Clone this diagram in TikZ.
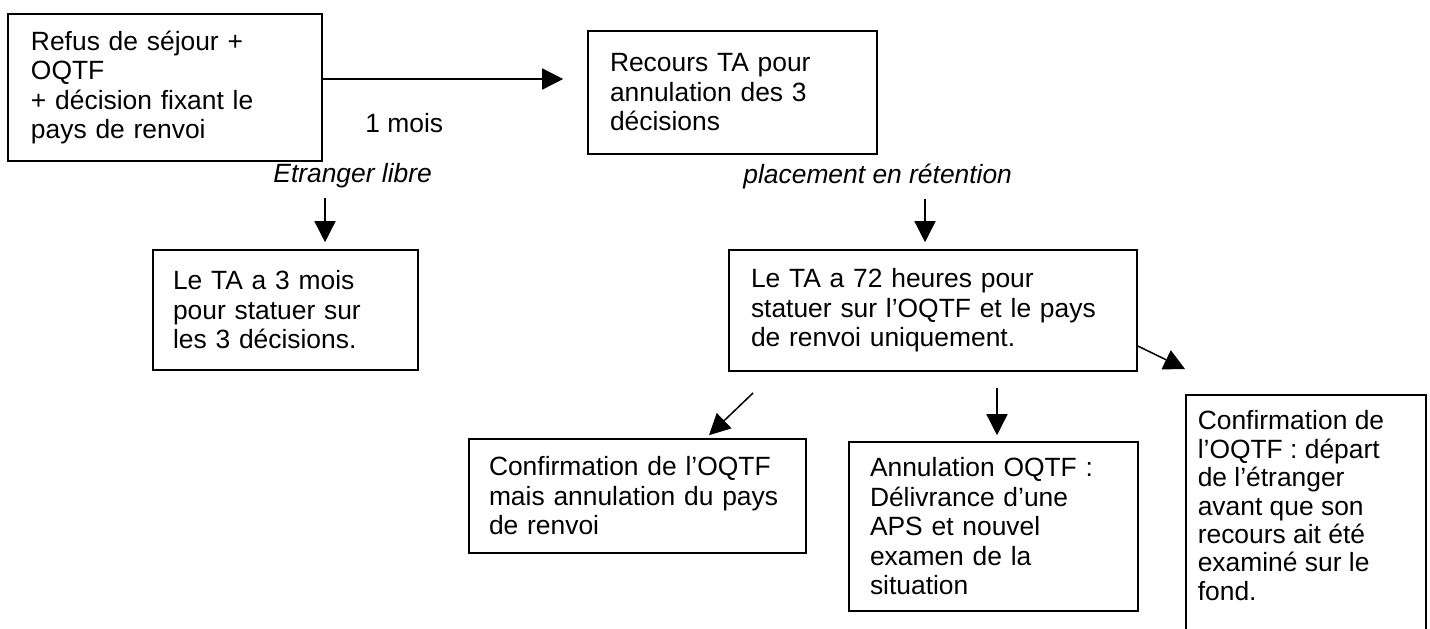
\documentclass[tikz,border=0pt]{standalone}
\usepackage{fontspec}
\setmainfont{Liberation Sans}
\usetikzlibrary{arrows.meta}

\newcommand{\boxfont}{\fontsize{13.2}{14.75}\selectfont}
\tikzset{
  box/.style = {draw, line width = 0.8pt, align = left, font = \boxfont,
    inner ysep = 0pt},
  flow/.style = {-{Triangle[length = 10.5pt, width = 10.5pt]},
    line width = 0.75pt},
  delay/.style = {font = \boxfont, inner sep = 0pt, anchor = base west},
  cond/.style = {delay, font = \boxfont\itshape}
}

\begin{document}
\begin{tikzpicture}[x = 0.5pt, y = -0.5pt]
  % page
  \fill[white] (0, 0) rectangle (1430, 628);
  \useasboundingbox (0, 0) rectangle (1430, 628);
  \clip (0, 0) rectangle (1430, 628);
  % first decisions and the appeal
  \node[box, text width = 134pt, inner xsep = 11.5pt, minimum height = 73.5pt]
  (refus) at (165, 87.5) {Refus de séjour +\\ OQTF\\ + décision fixant le\\
    pays de renvoi};
  \node[box, text width = 122.5pt, inner xsep = 11pt, minimum height = 61.5pt]
  (recours) at (732.5, 92.5) {Recours TA pour\\ annulation des 3\\ décisions};
  \node[delay] (mois) at (365, 132) {1 mois};
  \coordinate (refusout) at ([yshift = 4.25pt]refus.east);
  \draw[flow, shorten >= 12pt] (refusout) -- (refusout -| recours.west);
  % free foreigner
  \node[cond] (libre) at (273, 182) {Etranger libre};
  \node[box, text width = 112.5pt, inner xsep = 10pt, minimum height = 60pt]
  (delai3) at (285.5, 310) {Le TA a 3 mois\\ pour statuer sur\\
    les 3 décisions.};
  \coordinate (libredown) at (325, 198);
  \draw[flow, shorten >= 3.5pt] (libredown) -- (libredown |- delai3.north);
  % retention
  \node[cond] (retention) at (743, 183) {placement en rétention};
  \node[box, text width = 182pt, inner xsep = 11pt, minimum height = 60.5pt]
  (delai72) at (933, 310.5) {Le TA a 72 heures pour\\
    statuer sur l’OQTF et le pays\\ de renvoi uniquement.};
  \coordinate (retdown) at (925, 199);
  \draw[flow, shorten >= 3.5pt] (retdown) -- (retdown |- delai72.north);
  % the three outcomes
  \node[box, text width = 148.5pt, inner xsep = 10pt, minimum height = 57pt]
  (pays) at (637.5, 496) {Confirmation de l’OQTF\\ mais annulation du pays\\
    de renvoi};
  \node[box, text width = 123.5pt, inner xsep = 10.5pt, minimum height = 84.5pt]
  (aps) at (993.5, 526.5) {Annulation OQTF :\\ Délivrance d’une\\
    APS et nouvel\\ examen de la\\ situation};
  \node[box, inner xsep = 6pt, inner ysep = 8pt, anchor = north west]
  (depart) at (1185, 394) {\parbox[c][125pt][t]{108pt}{\raggedright
      \fontsize{13.2}{14.2}\selectfont Confirmation de\\ l’OQTF : départ\\
      de l’étranger\\ avant que son\\ recours ait été\\ examiné sur le\\
      fond.}};
  \coordinate (paysin) at (753, 393);
  \draw[flow] (paysin) -- ([xshift = 35.75pt, yshift = 1.5pt]pays.north);
  \coordinate (apsin) at (997, 388);
  \draw[flow, shorten >= 3pt] (apsin) -- (apsin |- aps.north);
  \draw[flow] ([yshift = -17.75pt]delai72.east)
  -- ([yshift = 12.5pt]depart.north west);
\end{tikzpicture}
\end{document}
